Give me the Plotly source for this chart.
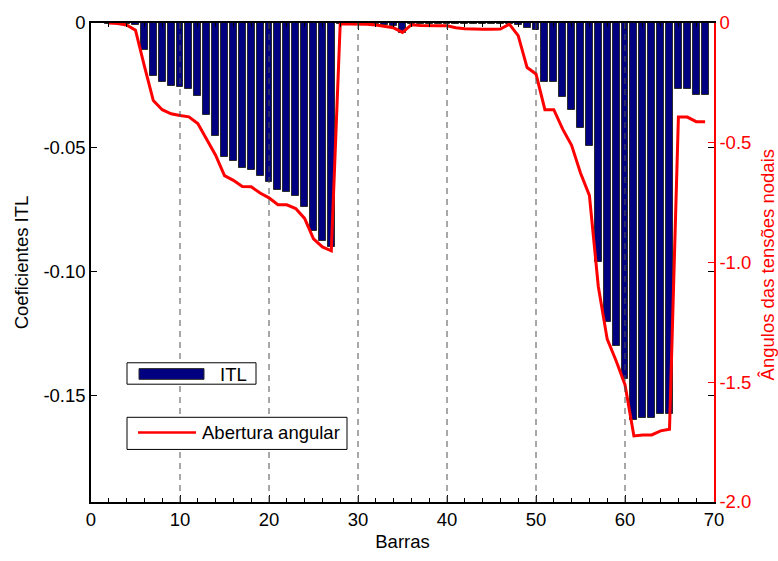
import plotly.graph_objects as go

# Bus numbers
barras = list(range(2, 70))

# ITL coefficients per bus
itl = [
    -0.0004, -0.0003, -0.0003, -0.0009, -0.0107, -0.0214, -0.0237, -0.0254,   # 2-9
    -0.0259, -0.0266, -0.0293, -0.0371, -0.0456, -0.0540, -0.0557, -0.0585,   # 10-17
    -0.0592, -0.0618, -0.0642, -0.0674, -0.0682, -0.0698, -0.0741, -0.0838,   # 18-25
    -0.0878, -0.0901, -0.0002, -0.0003, -0.0003, -0.0003, -0.0004, -0.0009,   # 26-33
    -0.0012, -0.0039, -0.0006, -0.0006, -0.0006, -0.0006, -0.0006, -0.0006,   # 34-41
    -0.0006, -0.0006, -0.0006, -0.0006, -0.0006, -0.0006, -0.0009, -0.0022,   # 42-49
    -0.0029, -0.0237, -0.0237, -0.0300, -0.0350, -0.0423, -0.0495, -0.0964,   # 50-57
    -0.1204, -0.1300, -0.1435, -0.1598, -0.1592, -0.1592, -0.1575, -0.1575,   # 58-65
    -0.0266, -0.0266, -0.0289, -0.0289,                                       # 66-69
]

# Nodal voltage angles per bus
angulos = [
    0.000, -0.002, -0.008, -0.030, -0.180, -0.324, -0.362, -0.379,            # 2-9
    -0.386, -0.392, -0.420, -0.484, -0.552, -0.637, -0.657, -0.683,           # 10-17
    -0.684, -0.710, -0.730, -0.759, -0.759, -0.775, -0.816, -0.901,           # 18-25
    -0.935, -0.951, -0.004, -0.004, -0.004, -0.005, -0.008, -0.013,           # 26-33
    -0.020, -0.039, -0.007, -0.010, -0.012, -0.012, -0.012, -0.020,           # 34-41
    -0.024, -0.026, -0.026, -0.026, -0.025, -0.005, -0.053, -0.186,           # 42-49
    -0.213, -0.362, -0.362, -0.443, -0.511, -0.626, -0.720, -1.100,           # 50-57
    -1.320, -1.410, -1.510, -1.724, -1.720, -1.720, -1.703, -1.696,           # 58-65
    -0.393, -0.393, -0.412, -0.412,                                           # 66-69
]

x_ticks = [0, 10, 20, 30, 40, 50, 60, 70]
grid_x = [10, 20, 30, 40, 50, 60]
y1_ticks = [0, -0.05, -0.10, -0.15]
y1_labels = ["0", "-0.05", "-0.10", "-0.15"]
y2_ticks = [0, -0.5, -1.0, -1.5, -2.0]
y2_labels = ["0", "-0.5", "-1.0", "-1.5", "-2.0"]

FONT = "Liberation Sans, Arial, sans-serif"
FS = 18.5
NAVY = "#000080"
RED = "#ff0000"

W, H = 778, 561
ML, MR, MT, MB = 91, 64, 16, 53
PW, PH = W - ML - MR, H - MT - MB


def px(xp):
    return (xp - ML) / PW


def py(yp):
    return (H - MB - yp) / PH


fig = go.Figure()

fig.add_trace(go.Bar(
    x=barras, y=itl, width=0.78,
    marker=dict(color=NAVY, line=dict(color="#2a2a2a", width=1)),
    name="ITL", showlegend=False, yaxis="y",
))

fig.add_trace(go.Scatter(
    x=barras, y=angulos, mode="lines",
    line=dict(color=RED, width=3),
    name="Abertura angular", showlegend=False, yaxis="y2",
))

shapes = []
# dashed vertical guides drawn over the bars
for gx in grid_x:
    shapes.append(dict(type="line", xref="x", yref="paper", x0=gx, x1=gx, y0=0, y1=1,
                       line=dict(color="#505050", width=1, dash="6px,5px"), layer="above"))

# legend boxes
shapes.append(dict(type="rect", xref="paper", yref="paper",
                   x0=px(127), x1=px(256), y0=py(387), y1=py(365),
                   line=dict(color="black", width=1), fillcolor="white", layer="above"))
shapes.append(dict(type="rect", xref="paper", yref="paper",
                   x0=px(139), x1=px(204), y0=py(382), y1=py(371),
                   line=dict(color="#2a2a2a", width=1), fillcolor=NAVY, layer="above"))
shapes.append(dict(type="rect", xref="paper", yref="paper",
                   x0=px(127), x1=px(347), y0=py(454), y1=py(421),
                   line=dict(color="black", width=1), fillcolor="white", layer="above"))
shapes.append(dict(type="line", xref="paper", yref="paper",
                   x0=px(138), x1=px(196), y0=py(436.5), y1=py(436.5),
                   line=dict(color=RED, width=2.5), layer="above"))

annotations = [
    dict(text="ITL", xref="paper", yref="paper", x=px(218), y=py(377),
         xanchor="left", yanchor="middle", showarrow=False,
         font=dict(family=FONT, size=FS, color="black")),
    dict(text="Abertura angular", xref="paper", yref="paper", x=px(200), y=py(437),
         xanchor="left", yanchor="middle", showarrow=False,
         font=dict(family=FONT, size=FS, color="black")),
    # right axis title
    dict(text="Ângulos das tensões nodais", xref="paper", yref="paper",
         x=px(767), y=py(265), xanchor="center", yanchor="middle",
         textangle=-90, showarrow=False,
         font=dict(family=FONT, size=FS, color=RED)),
]

fig.update_layout(
    width=W, height=H,
    margin=dict(l=ML, r=MR, t=MT, b=MB, pad=0),
    paper_bgcolor="white", plot_bgcolor="white",
    font=dict(family=FONT, size=FS, color="black"),
    bargap=0,
    shapes=shapes, annotations=annotations,
    xaxis=dict(
        range=[0, 70], tickvals=x_ticks, ticktext=[str(v) for v in x_ticks],
        ticks="inside", ticklen=7, tickcolor="black", tickwidth=1,
        minor=dict(dtick=2, ticks="inside", ticklen=4, tickcolor="black"),
        showline=True, linecolor="black", linewidth=1.5, mirror="ticks",
        showgrid=False, zeroline=False,
        title=dict(text="Barras", font=dict(size=FS), standoff=6),
        tickfont=dict(size=FS),
    ),
    yaxis=dict(
        range=[-0.193, 0], tickvals=y1_ticks, ticktext=y1_labels,
        ticks="inside", ticklen=6, tickcolor="black",
        showline=True, linecolor="black", linewidth=1.5, mirror="ticks",
        showgrid=False, zeroline=False,
        title=dict(text="Coeficientes ITL", font=dict(size=FS), standoff=10),
        tickfont=dict(size=FS),
    ),
    yaxis2=dict(
        range=[-2, 0], tickvals=y2_ticks, ticktext=y2_labels,
        overlaying="y", side="right", anchor="x",
        ticks="inside", ticklen=6, tickcolor=RED,
        showline=True, linecolor=RED, linewidth=1.5,
        showgrid=False, zeroline=False,
        tickfont=dict(size=FS, color=RED),
    ),
)

fig.write_html("out.html")
